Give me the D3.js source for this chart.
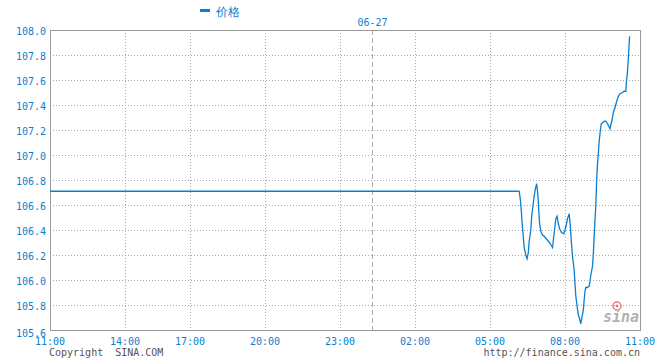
<!DOCTYPE html>
<html>
<head>
<meta charset="utf-8">
<script src="https://cdn.jsdelivr.net/npm/d3@7"></script>
<style>
  html, body { margin: 0; padding: 0; background: #fff; }
  svg { display: block; }
  text { font-family: "DejaVu Sans Mono", monospace; }
</style>
</head>
<body>
<svg id="chart" width="660" height="360"></svg>
<script>
// ---- data ----
const seriesName = "价格";
const dateLabel = "06-27";
const dateMarkTime = "00:00";
const xTickLabels = ["11:00", "14:00", "17:00", "20:00", "23:00", "02:00", "05:00", "08:00", "11:00"];
const yTickValues = [105.6, 105.8, 106.0, 106.2, 106.4, 106.6, 106.8, 107.0, 107.2, 107.4, 107.6, 107.8, 108.0];
const times = [
  "11:00", "06:10", "06:13", "06:15", "06:17", "06:20", "06:22", "06:26", "06:29", "06:32",
  "06:34", "06:38", "06:40", "06:43", "06:46", "06:49", "06:52", "06:55", "06:57", "06:59",
  "07:02", "07:06", "07:10", "07:15", "07:20", "07:25", "07:30", "07:33", "07:36", "07:38",
  "07:41", "07:44", "07:47", "07:52", "07:57", "08:00", "08:03", "08:06", "08:10", "08:13",
  "08:15", "08:18", "08:22", "08:24", "08:26", "08:29", "08:32", "08:35", "08:38", "08:41",
  "08:44", "08:46", "08:48", "08:50", "08:53", "08:58", "09:00", "09:02", "09:06", "09:08",
  "09:10", "09:12", "09:14", "09:16", "09:18", "09:20", "09:22", "09:25", "09:27", "09:31",
  "09:35", "09:38", "09:42", "09:45", "09:48", "09:50", "09:53", "09:56", "10:00", "10:05",
  "10:08", "10:12", "10:18", "10:22", "10:26", "10:27", "10:30", "10:32", "10:34", "10:35"
];
const prices = [
  106.71, 106.71, 106.64, 106.56, 106.46, 106.34, 106.26, 106.20, 106.17, 106.22,
  106.31, 106.40, 106.51, 106.59, 106.67, 106.73, 106.77, 106.68, 106.56, 106.45,
  106.39, 106.36, 106.35, 106.33, 106.31, 106.29, 106.26, 106.35, 106.43, 106.49,
  106.51, 106.45, 106.41, 106.38, 106.37, 106.40, 106.44, 106.49, 106.53, 106.42,
  106.32, 106.19, 106.08, 105.97, 105.87, 105.79, 105.72, 105.69, 105.65, 105.71,
  105.76, 105.84, 105.91, 105.94, 105.94, 105.95, 105.99, 106.04, 106.11, 106.21,
  106.35, 106.48, 106.60, 106.80, 106.93, 107.01, 107.11, 107.20, 107.25, 107.26,
  107.27, 107.27, 107.25, 107.23, 107.21, 107.24, 107.28, 107.34, 107.38, 107.44,
  107.47, 107.49, 107.50, 107.51, 107.51, 107.57, 107.67, 107.77, 107.89, 107.95
];
const copyrightText = "Copyright  SINA.COM";
const sourceText = "http://finance.sina.com.cn";

// ---- helpers ----
function toMinutes(t, i) {
  const [h, m] = t.split(":").map(Number);
  let v = (h * 60 + m) - 11 * 60;
  if (v < 0 || (i > 0 && v === 0)) v += 1440;
  return v;
}
const data = times.map((t, i) => ({ t: toMinutes(t, i), v: prices[i] }));

// ---- layout ----
const L = 50, R = 640, T = 30, B = 330;
const svg = d3.select("#chart");

const x = d3.scaleLinear()
  .domain([0, 180, 360, 540, 720, 780, 900, 1080, 1260, 1440])
  .range([L, 125, 190, 265, 340, 372, 415, 490, 565, R]);
const y = d3.scaleLinear().domain([105.6, 108.0]).range([B, T]);

const blue = "#0a7fd0";
const gridColor = "#aaaaaa";

// grid lines
const gH = svg.append("g");
yTickValues.slice(1, -1).forEach(v => {
  gH.append("line")
    .attr("x1", L).attr("x2", R)
    .attr("y1", Math.round(y(v)) + 0.5).attr("y2", Math.round(y(v)) + 0.5)
    .attr("stroke", gridColor).attr("stroke-dasharray", "1,2").attr("shape-rendering", "crispEdges");
});
xTickLabels.forEach((lab, i) => {
  if (i === 0 || i === xTickLabels.length - 1) return;
  const xx = Math.round(x(i * 180)) + 0.5;
  gH.append("line")
    .attr("x1", xx).attr("x2", xx).attr("y1", T).attr("y2", B)
    .attr("stroke", gridColor).attr("stroke-dasharray", "1,2").attr("shape-rendering", "crispEdges");
});

// date marker
const dm = Math.round(x(toMinutes(dateMarkTime, 1))) + 0.5;
svg.append("line")
  .attr("x1", dm).attr("x2", dm).attr("y1", T).attr("y2", B)
  .attr("stroke", "#b0b0b0").attr("stroke-width", 1.2).attr("stroke-dasharray", "5,3")
  .attr("shape-rendering", "crispEdges");
svg.append("text")
  .attr("x", dm).attr("y", 26)
  .attr("text-anchor", "middle").attr("font-size", 10).attr("fill", blue)
  .text(dateLabel);

// frame
svg.append("rect")
  .attr("x", L + 0.5).attr("y", T + 0.5).attr("width", R - L).attr("height", B - T)
  .attr("fill", "none").attr("stroke", "#999999").attr("stroke-width", 1.5)
  .attr("shape-rendering", "crispEdges");

// y tick labels
yTickValues.forEach((v, i) => {
  svg.append("text")
    .attr("x", 46).attr("y", y(v) + (i === 0 ? 6.5 : 5))
    .attr("text-anchor", "end").attr("font-size", 10).attr("fill", blue)
    .text(d3.format(".1f")(v));
});

// x tick labels
xTickLabels.forEach((lab, i) => {
  svg.append("text")
    .attr("x", x(i * 180)).attr("y", 344.5)
    .attr("text-anchor", "middle").attr("font-size", 10).attr("fill", blue)
    .text(lab);
});

// price line
const line = d3.line().x(d => x(d.t)).y(d => y(d.v));
svg.append("path")
  .datum(data)
  .attr("d", line)
  .attr("fill", "none").attr("stroke", blue).attr("stroke-width", 1.3);

// legend
svg.append("rect").attr("x", 200).attr("y", 9).attr("width", 10).attr("height", 3).attr("fill", blue);
svg.append("text")
  .attr("x", 216).attr("y", 16)
  .attr("font-family", "'Noto Sans CJK SC', sans-serif").attr("font-size", 12).attr("fill", blue)
  .text(seriesName);

// footer texts
svg.append("text")
  .attr("x", 49).attr("y", 356).attr("font-size", 10).attr("fill", "#555")
  .attr("xml:space", "preserve").style("white-space", "pre")
  .text(copyrightText);
svg.append("text")
  .attr("x", 640).attr("y", 356).attr("text-anchor", "end").attr("font-size", 10).attr("fill", "#555")
  .text(sourceText);

// watermark
const wm = svg.append("g").attr("opacity", 0.75);
wm.append("circle").attr("cx", 617).attr("cy", 306).attr("r", 4).attr("fill", "none").attr("stroke", "#e05050").attr("stroke-width", 1.5);
wm.append("circle").attr("cx", 617).attr("cy", 306).attr("r", 1.5).attr("fill", "#e05050");
wm.append("text")
  .attr("x", 639).attr("y", 322).attr("text-anchor", "end")
  .attr("font-family", "'DejaVu Sans', sans-serif").attr("font-style", "italic").attr("font-weight", "bold")
  .attr("font-size", 15).attr("fill", "#999")
  .text("sina");
</script>
</body>
</html>
